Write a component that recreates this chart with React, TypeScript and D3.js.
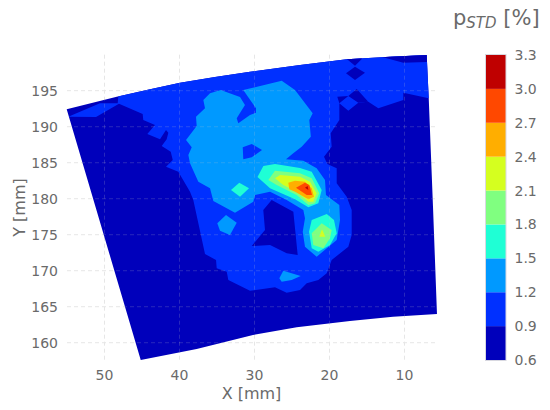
import * as d3 from 'd3';

type Pt = [number, number];

// axis ticks
const xTicks = [50, 40, 30, 20, 10];
const yTicks = [160, 165, 170, 175, 180, 185, 190, 195];
const levels = [0.6, 0.9, 1.2, 1.5, 1.8, 2.1, 2.4, 2.7, 3.0, 3.3];
const levelColors = ['#0000bb', '#0030ff', '#0099ff', '#1fffd5', '#80ff80', '#d5ff1f', '#ffae00', '#ff4800', '#bf0000'];

// measured area, X/Y in mm
const outline: Pt[] = [
  [55.04, 192.42], [48.37, 194.17], [43.93, 195.2], [39.93, 196.11], [35.27, 196.9], [30.6, 197.64], [23.93, 198.57], [17.71, 199.36], [11.93, 199.71], [7.04, 199.96],
  [6.77, 193.99], [6.2, 178.89], [5.67, 163.99], [11.53, 163.6], [17.27, 163.03], [24.37, 162.14],
  [30.2, 161.07], [37.71, 159.13], [45.17, 157.6],
];

// iso-regions, painted from low to high
const region09: Pt[] = [
  [54.6, 191.49], [50.6, 193.25], [48.24, 193.25], [48.16, 194.17], [48.2, 201], [5, 201], [5, 194],
  [6.77, 193.95], [10.16, 194.72], [10.16, 193.71], [13.49, 192.56], [14.83, 193.47], [16.16, 193.33],
  [17.49, 192.22], [18.69, 193.25], [18.69, 190.93], [19.84, 189.09], [19.71, 187.22], [20.73, 185.83],
  [20.29, 184.82], [19.04, 184.22], [19.04, 182.14], [17.71, 180.28], [17.04, 178.43], [17.04, 174.96],
  [17.49, 173.33], [19.71, 171.49], [20.37, 169.64], [21.49, 168.71], [23.04, 168.25], [23.93, 167.32],
  [25.71, 166.95], [27.27, 167.7], [30.6, 167.22], [33.49, 168.71], [33.7, 169.86], [35.04, 170.33],
  [35.13, 171.49], [36.6, 172.32], [38.16, 179.82], [38.6, 180.97], [40.16, 183.75], [41.8, 184.45],
  [40.9, 185.37], [41.17, 186.53], [42.37, 187.32], [41.71, 188.25], [41.49, 189.17], [41.8, 189.54],
  [42.6, 188.25], [44.29, 188.99], [43.27, 190.24], [44.83, 190.93], [44.91, 191.76], [48.07, 193.2],
  [51.13, 191.35], [54.82, 191.39],
];
const lowPatches: Pt[][] = [
  [[16.37, 195.24], [14.83, 193.47], [16.16, 193.33], [17.49, 194.27], [18.69, 193.25], [18.96, 194.17], [17.49, 194.27]],
  [[17.8, 197.41], [16.6, 198.33], [15.27, 197.5], [16.6, 196.49]],
  [[17.7, 199.4], [16.6, 198.47], [15.7, 199.4], [15.7, 201], [17.7, 201]],
  [[13.49, 199.82], [10.16, 198.89], [7.04, 198.99], [5, 199], [5, 201], [13.49, 201]],
  [[27.71, 179.82], [24.82, 178.2], [24.24, 172.18], [25.71, 172.41], [27.93, 173.57], [30.37, 173.43], [28.6, 175.65], [28.83, 178.43]],
];
const region12: Pt[] = [
  [34.51, 195.1], [31.93, 194.12], [31.27, 193.01], [32.37, 191.17], [32.16, 190.47], [30.6, 191.62],
  [29.8, 191.94], [29.8, 192.56], [31.04, 194.4], [31.49, 195.1], [26.37, 196.39], [24.6, 195.1],
  [22.24, 191.86], [22.69, 190.93], [22.49, 188.61], [23.71, 187.22], [24.83, 186.31], [25.8, 185.47],
  [23.49, 185.28], [21.71, 184.22], [20.6, 182.6], [20.47, 180.51], [18.69, 179.12], [18.6, 177.04],
  [19.04, 174.26], [21.71, 171.94], [23.27, 173.33], [23.57, 175.42], [23.27, 177.28], [23.49, 178.43],
  [25.71, 179.82], [27.93, 180.97], [29.93, 180.51], [30.16, 179.58], [32.6, 178.06], [35.49, 179.68],
  [35.93, 181.44], [37.49, 182.36], [38.6, 184.92], [38.82, 186.07], [38.37, 187.14], [39.13, 188.16],
  [37.71, 190.1], [37.8, 191.39], [36.6, 192.56], [36.82, 193.71], [35.93, 194.64],
];
const hole09: Pt[] = [[31.57, 187.14], [30.37, 187.6], [29.0, 186.76], [30.37, 185.75], [31.49, 185.47]];
const islands12: Pt[][] = [
  [[34.96, 176.58], [33.8, 177.74], [32.37, 176.67], [33.27, 174.96], [34.6, 175.55]],
  [[26.69, 168.94], [26.16, 170.0], [23.84, 169.26], [25.04, 168.71], [26.37, 168.47]],
];
const regions15: Pt[][] = [
  [[33.13, 181.21], [32.03, 182.22], [30.73, 181.45], [31.93, 180.28]],
  [[29.6, 183.0], [28.82, 184.54], [27.27, 184.82], [23.93, 184.26], [22.37, 183.75], [21.04, 181.21], [21.49, 179.36], [22.82, 178.8], [24.6, 179.92], [27.93, 181.44]],
  [[22.73, 175.42], [22.37, 177.04], [20.37, 177.87], [19.4, 177.04], [19.04, 175.2], [19.93, 173.57], [21.49, 172.64], [22.37, 173.11]],
];
const regions18: Pt[][] = [
  [[28.16, 182.6], [27.27, 183.89], [23.93, 183.53], [22.37, 182.83], [21.36, 180.75], [21.93, 179.36], [22.82, 179.12], [24.37, 180.51], [27.04, 181.9]],
  [[22.37, 175.2], [21.04, 176.58], [19.71, 175.65], [19.93, 174.5], [20.82, 173.11], [22.16, 173.57]],
];
const regions21: Pt[][] = [
  [[27.27, 182.83], [26.6, 183.29], [23.93, 183.05], [22.6, 182.36], [21.71, 180.75], [22.16, 179.58], [22.82, 179.58], [24.37, 180.97], [26.16, 181.9]],
  [[21.36, 174.72], [21.0, 175.75], [20.56, 174.72]],
];
const region24: Pt[] = [[25.49, 182.22], [24.6, 182.5], [23.27, 182.36], [22.37, 181.44], [22.07, 180.28], [22.82, 179.92], [24.6, 180.97], [25.36, 181.3]];
const region27: Pt[] = [[24.47, 181.53], [23.27, 182.22], [22.69, 181.9], [22.33, 180.52], [23.04, 180.52]];
const region30: Pt[] = [[23.27, 181.53], [22.91, 181.76], [22.82, 181.21]];

const paintOrder: [number, Pt[]][] = [
  [1, region09],
  ...lowPatches.map((p): [number, Pt[]] => [0, p]),
  [2, region12],
  [1, hole09],
  ...islands12.map((p): [number, Pt[]] => [2, p]),
  ...regions15.map((p): [number, Pt[]] => [3, p]),
  ...regions18.map((p): [number, Pt[]] => [4, p]),
  ...regions21.map((p): [number, Pt[]] => [5, p]),
  [6, region24],
  [7, region27],
  [8, region30],
];

const textColor = '#6a6a6a';
const font = '"DejaVu Sans", sans-serif';

export default function App() {
  const left = 67;
  const right = 437.5;
  const top = 54.7;
  const bottom = 360;

  const x = d3.scaleLinear().domain([55, 5.6]).range([left, right]);
  const y = d3.scaleLinear().domain([157.6, 200]).range([bottom, top]);
  const barY = d3.scaleLinear().domain([0.6, 3.3]).range([360, 55]);

  const line = d3.line<Pt>().x(d => x(d[0])).y(d => y(d[1])).curve(d3.curveLinearClosed);

  const grid = (
    <>
      {xTicks.map(t => (
        <line key={t} x1={x(t)} x2={x(t)} y1={top} y2={bottom} />
      ))}
      {yTicks.map(t => (
        <line key={t} x1={left} x2={right} y1={y(t)} y2={y(t)} />
      ))}
    </>
  );

  return (
    <svg width={550} height={410} style={{ position: 'absolute', left: 0, top: 0 }} fontFamily={font}>
      <defs>
        <clipPath id="area">
          <path d={line(outline) ?? ''} />
        </clipPath>
      </defs>

      <g stroke="#e6e6e6" strokeDasharray="4 3">{grid}</g>

      <path d={line(outline) ?? ''} fill={levelColors[0]} />
      <g clipPath="url(#area)">
        {paintOrder.map(([level, pts], i) => (
          <path key={i} d={line(pts) ?? ''} fill={levelColors[level]} />
        ))}
        {/* grid shows faintly through the contours */}
        <g stroke="#c8c8c8" strokeOpacity={0.2} strokeDasharray="4 3">{grid}</g>
      </g>

      <g fill={textColor} fontSize={14}>
        {xTicks.map(t => (
          <text key={t} x={x(t)} y={379.5} textAnchor="middle">{t}</text>
        ))}
        {yTicks.map(t => (
          <text key={t} x={58} y={y(t) + 5} textAnchor="end">{t}</text>
        ))}
      </g>
      <text x={251.5} y={399} textAnchor="middle" fontSize={16} fill={textColor}>X [mm]</text>
      <text transform="translate(24.5,207.5) rotate(-90)" textAnchor="middle" fontSize={16} fill={textColor}>Y [mm]</text>

      {/* colour bar */}
      {levelColors.map((c, i) => (
        <rect key={c} x={486} width={20} y={barY(levels[i + 1])} height={barY(levels[i]) - barY(levels[i + 1])} fill={c} />
      ))}
      <rect x={485.5} y={54.5} width={20.5} height={306} fill="none" stroke="#d8d8e0" />
      <g fill={textColor} fontSize={14}>
        {levels.map(l => (
          <text key={l} x={514.5} y={barY(l) + 5}>{l.toFixed(1)}</text>
        ))}
      </g>

      <text x={453} y={25} fontSize={21} fill={textColor}>
        p<tspan fontSize={15} fontStyle="italic" dy={3}>STD</tspan>
        <tspan dy={-3}> [%]</tspan>
      </text>
    </svg>
  );
}
